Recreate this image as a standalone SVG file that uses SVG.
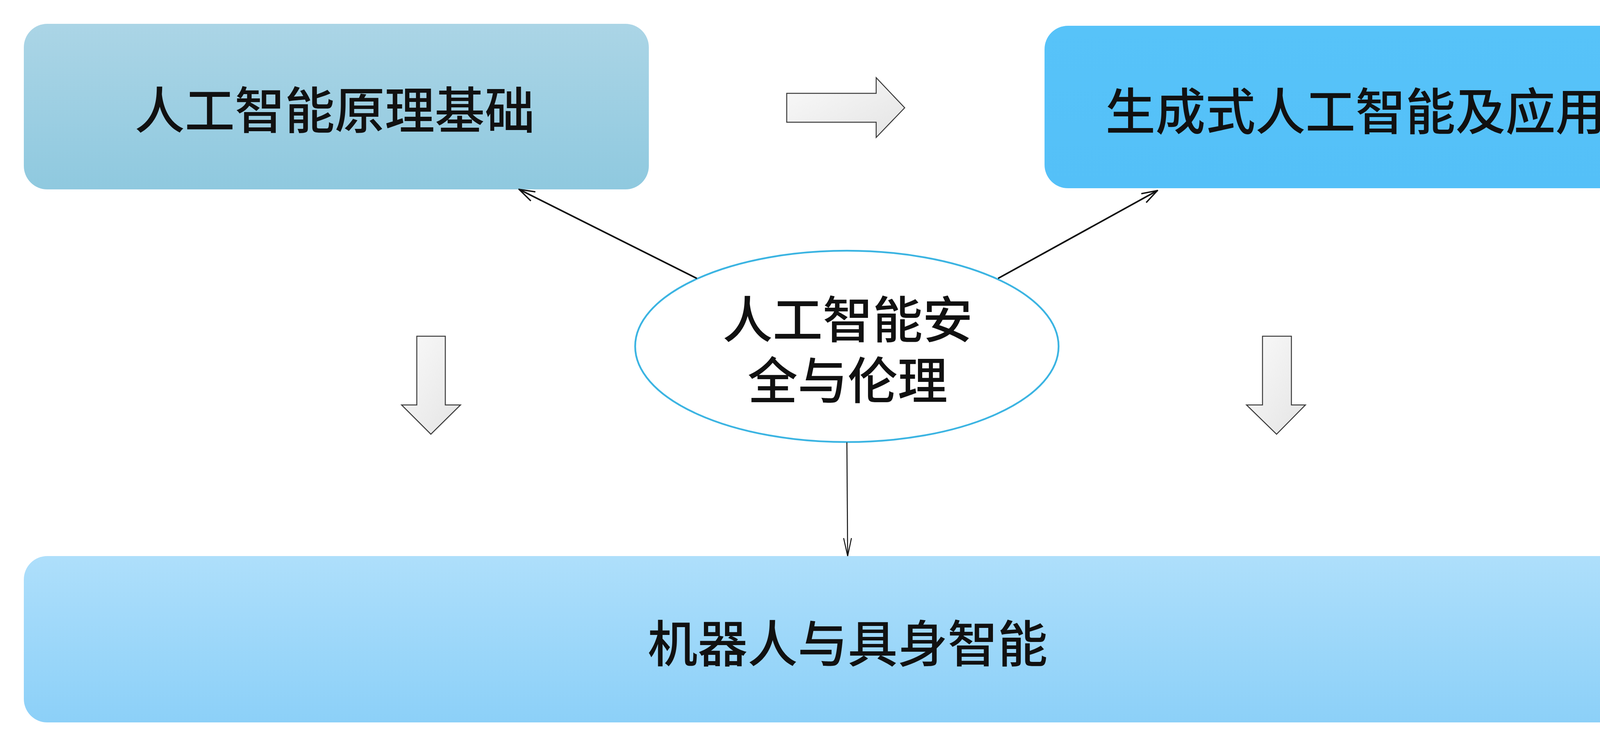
<svg xmlns="http://www.w3.org/2000/svg" width="4320" height="1872" viewBox="0 0 4320 1872">
  <style>
    .label { font-family: "Noto Sans CJK SC", "Noto Sans", sans-serif; font-size: 128px; font-weight: 500; fill: #111111; text-anchor: middle; }
    .conn { stroke: #111111; fill: none; }
    .hollow { fill: url(#gArrow); stroke: #3a3a3a; stroke-width: 2.5; stroke-linejoin: miter; }
  </style>
  <defs>
    <linearGradient id="g1" x1="0" y1="0" x2="0" y2="1">
      <stop offset="0" stop-color="#ABD5E6"/>
      <stop offset="1" stop-color="#8FC9DF"/>
    </linearGradient>
    <linearGradient id="g2" x1="0" y1="0" x2="0" y2="1">
      <stop offset="0" stop-color="#57C3F9"/>
      <stop offset="1" stop-color="#54C0F8"/>
    </linearGradient>
    <linearGradient id="g3" x1="0" y1="0" x2="0" y2="1">
      <stop offset="0" stop-color="#AEDFFB"/>
      <stop offset="1" stop-color="#8CD0F8"/>
    </linearGradient>
    <linearGradient id="gArrow" x1="0" y1="0" x2="1" y2="1">
      <stop offset="0" stop-color="#FAFAFA"/>
      <stop offset="1" stop-color="#E4E4E4"/>
    </linearGradient>
    <marker id="open" viewBox="0 0 44 30" refX="42" refY="15" markerWidth="44" markerHeight="30" markerUnits="userSpaceOnUse" orient="auto">
      <path d="M2,2 L42,15 L2,28" fill="none" stroke="#111111" stroke-width="3.5"/>
    </marker>
    <marker id="openThin" viewBox="0 0 50 24" refX="48" refY="12" markerWidth="50" markerHeight="24" markerUnits="userSpaceOnUse" orient="auto">
      <path d="M2,2 L48,12 L2,22" fill="none" stroke="#111111" stroke-width="2.5"/>
    </marker>
  </defs>
  <rect width="4320" height="1872" fill="#FFFFFF"/>

  <g id="node-foundations">
    <rect x="61" y="61" width="1600" height="424" rx="60" ry="60" fill="url(#g1)"/>
    <text class="label" x="857" y="330">人工智能原理基础</text>
  </g>

  <g id="node-generative">
    <rect x="2674" y="66" width="1600" height="416" rx="60" ry="60" fill="url(#g2)"/>
    <text class="label" x="3470" y="333">生成式人工智能及应用</text>
  </g>

  <g id="node-ethics">
    <ellipse cx="2168" cy="887" rx="542" ry="245" fill="#FFFFFF" stroke="#3BB4E2" stroke-width="4.5"/>
    <text class="label"><tspan x="2170" y="866">人工智能安</tspan><tspan x="2170" y="1022">全与伦理</tspan></text>
  </g>

  <g id="node-robotics">
    <rect x="61" y="1424" width="4217" height="426" rx="60" ry="60" fill="url(#g3)"/>
    <text class="label" x="2170" y="1696">机器人与具身智能</text>
  </g>

  <g id="connectors">
    <line class="conn" x1="1784" y1="713" x2="1329" y2="485" stroke-width="4" marker-end="url(#open)"/>
    <line class="conn" x1="2555" y1="713" x2="2963" y2="488" stroke-width="4" marker-end="url(#open)"/>
    <line class="conn" x1="2168" y1="1133" x2="2170" y2="1424" stroke-width="2.5" marker-end="url(#openThin)"/>
    <polygon class="hollow" points="2014,239 2243,239 2243,199 2316,276 2243,352 2243,313 2014,313"/>
    <polygon class="hollow" points="1067,861 1140,861 1140,1037 1179,1037 1103,1112 1028,1037 1067,1037"/>
    <polygon class="hollow" points="3232,861 3306,861 3306,1037 3342,1037 3268,1112 3191,1037 3232,1037"/>
  </g>
</svg>
